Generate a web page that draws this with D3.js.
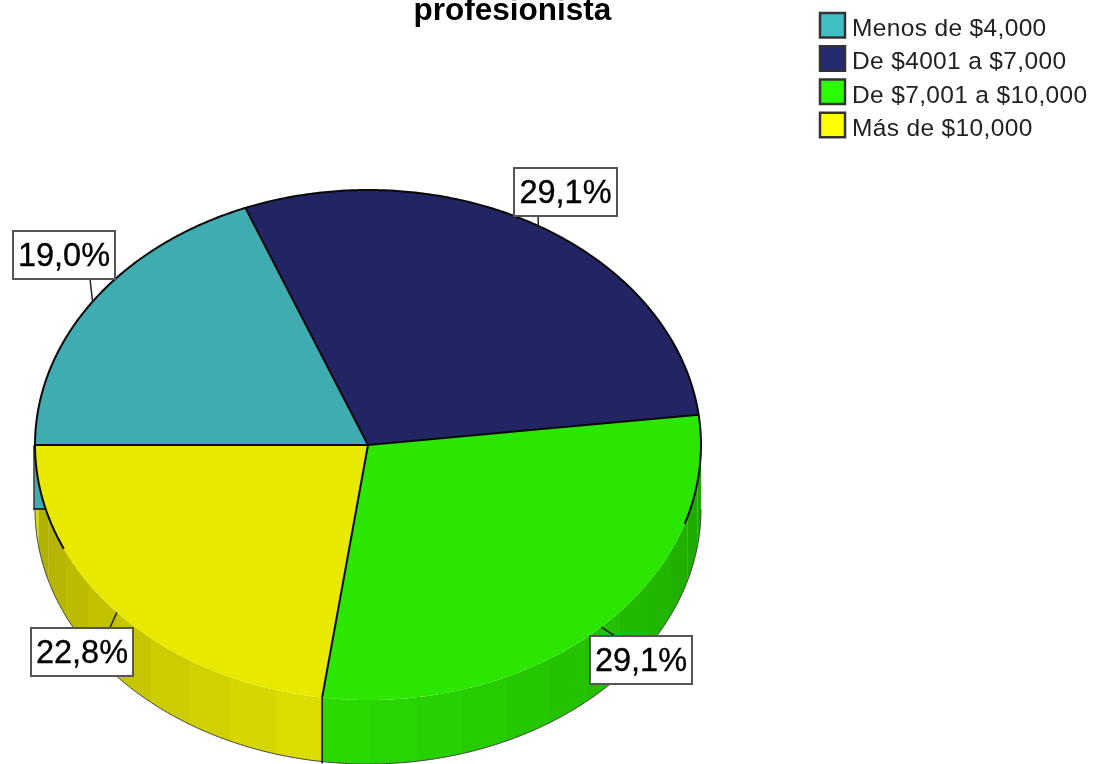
<!DOCTYPE html>
<html><head><meta charset="utf-8">
<script src="https://cdn.jsdelivr.net/npm/d3@7"></script>
<style>html,body{margin:0;padding:0;background:#fff;overflow:hidden}svg{display:block;filter:blur(0.45px)}text{font-family:"Liberation Sans",Arial,sans-serif}</style>
</head><body><div id="c"></div>
<script>
const categories=["Menos de $4,000","De $4001 a $7,000","De $7,001 a $10,000","Más de $10,000"];
const values=[19.0,29.1,29.1,22.8];
const labels=["19,0%","29,1%","29,1%","22,8%"];
const faceColors=["#3eacb0","#232463","#2ae600","#e8e800"];
const legendColors=["#3fc0c4","#232a70","#2aff00","#ffff00"];
const labelBoxes=[[13,231,102,48],[514,168,103,48],[590,636,102,48],[31,628,102,48]];
const leaderEnds=[[90,279],[538,216],[615,636],[108,632]];
const titleLine="profesionista";

const W=1094,H=764,depth=64;
const svg=d3.select("#c").append("svg").attr("width",W).attr("height",H);
const sx=d3.scaleLinear().domain([-1,1]).range([35,701]);
const sy=d3.scaleLinear().domain([-1,1]).range([190,700]);
const rad=d=>d*Math.PI/180;
const px=a=>sx(Math.sin(rad(a)));
const py=a=>sy(-Math.cos(rad(a)));
const line=d3.line();
const arcPts=(a,b,dy=0,step=0.5)=>{
  const n=Math.max(1,Math.ceil(Math.abs(b-a)/step));
  return d3.range(n+1).map(i=>{const t=a+(b-a)*i/n;return [px(t),py(t)+dy];});
};
const pie=d3.pie().sort(null).startAngle(rad(270)).endAngle(rad(630));
const slices=pie(values).map((d,i)=>({i,a0:d.startAngle*180/Math.PI,a1:d.endAngle*180/Math.PI}));

// side wall
const shade=d3.scaleLinear().domain([90,188,258,262,270]).range([0.72,0.96,0.76,0.95,0.95]);
const darker=(c,k)=>{const r=d3.rgb(c);return d3.rgb(r.r*k,r.g*k,r.b*k).formatHex();};
const wall=svg.append("g");
const green=slices[2], yellow=slices[3];
function strips(from,to,n,color){
  const st=(to-from)/n;
  d3.range(n).forEach(i=>{
    const a=from+i*st,b=a+st+0.15;
    const top=arcPts(a,b),bot=arcPts(b,a,depth);
    wall.append("path").attr("d",line(top.concat(bot))+"Z").attr("fill",darker(color,shade(a+st/2)));
  });
}
strips(90,green.a1-360,12,faceColors[2]);
strips(yellow.a0-360,yellow.a1-360,10,faceColors[3]);
// outer outline of the wall
wall.append("path").attr("d",line(arcPts(90,270,depth))).attr("fill","none").attr("stroke","#444").attr("stroke-width",1);
// teal sliver
const tealEnd=270-Math.asin(depth/255)*180/Math.PI;
wall.append("path").attr("d",line(arcPts(270,tealEnd).concat([[px(270)-1,py(270)+depth]]))+"Z")
  .attr("fill",faceColors[0]);
wall.append("path").attr("d",line([[px(270)-2,py(270)+depth],[px(tealEnd),py(270)+depth]]))
  .attr("stroke","#111").attr("stroke-width",1.5).attr("fill","none");
wall.append("path").attr("d",line([[px(270)-1,py(270)],[px(270)-1,py(270)+depth]]))
  .attr("stroke","#333").attr("stroke-width",1.5).attr("fill","none");

// top faces
const faces=svg.append("g");
slices.forEach(s=>{
  const pts=[[sx(0),sy(0)]].concat(arcPts(s.a0,s.a1));
  faces.append("path").attr("d",line(pts)+"Z").attr("fill",faceColors[s.i]);
});
// outlines
const edge=svg.append("g").attr("fill","none").attr("stroke","#0a0a0a").attr("stroke-width",2);
edge.append("path").attr("d",line(arcPts(246,468)));
slices.forEach(s=>{edge.append("path").attr("d",line([[sx(0),sy(0)],[px(s.a0),py(s.a0)]]));});
const seam=yellow.a0;
edge.append("path").attr("d",line([[px(seam),py(seam)],[px(seam),py(seam)+depth+2]])).attr("stroke-width",1.5);

// leaders + labels
const lab=svg.append("g");
slices.forEach(s=>{
  const m=(s.a0+s.a1)/2,[x,y,w,h]=labelBoxes[s.i];
  lab.append("path").attr("d",line([[px(m),py(m)],leaderEnds[s.i]])).attr("stroke","#222").attr("stroke-width",1.5).attr("fill","none");
  lab.append("rect").attr("x",x).attr("y",y).attr("width",w).attr("height",h).attr("fill","#fff").attr("stroke","#555").attr("stroke-width",2);
  lab.append("text").attr("x",x+w/2).attr("y",y+h/2+11).attr("text-anchor","middle").attr("font-size",32.5).attr("stroke","#000").attr("stroke-width",0.35).attr("fill","#000").text(labels[s.i]);
});

// title
svg.append("text").attr("x",512.5).attr("y",20).attr("text-anchor","middle").attr("font-weight","bold").attr("font-size",31.5).attr("fill","#000").text(titleLine);

// legend
const leg=svg.append("g");
const ly=d3.scaleBand().domain(categories).range([12,145]).paddingInner(0);
categories.forEach((c,i)=>{
  const y=ly(c);
  leg.append("rect").attr("x",820).attr("y",y+1).attr("width",25).attr("height",24.5).attr("fill",legendColors[i]).attr("stroke","#333").attr("stroke-width",2.5);
  leg.append("text").attr("x",852).attr("y",y+24).attr("font-size",24.5).attr("letter-spacing",0.35).attr("fill","#222").text(c);
});
</script></body></html>
